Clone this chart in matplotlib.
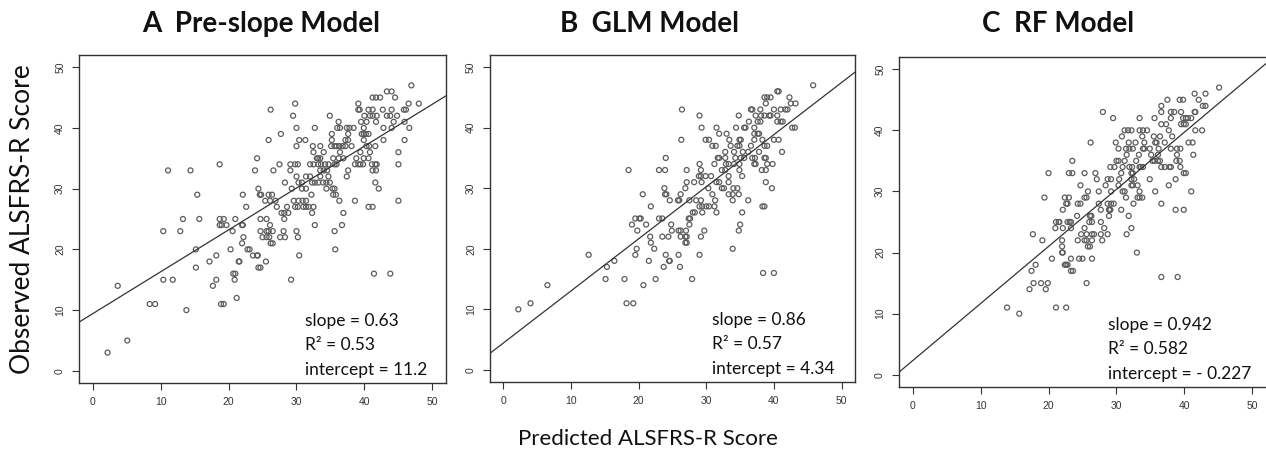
import matplotlib
matplotlib.use("Agg")
import matplotlib.pyplot as plt
import numpy as np

# observed score rows (integer y) with predicted x values
rows_a = {
    47: [46.9], 46: [43.3, 44.0], 45: [41.2, 41.7, 42.3, 44.5],
    44: [29.8, 39.1, 46.5, 48.0],
    43: [26.2, 39.1, 39.3, 40.6, 41.2, 42.7, 44.0, 45.8, 46.1],
    42: [29.5, 34.9, 40.0, 40.8, 41.2, 41.8, 43.3, 43.8, 44.8],
    41: [36.2, 39.5, 40.3, 41.7, 44.3, 45.9],
    40: [30.0, 32.7, 36.0, 36.4, 37.4, 37.8, 38.4, 39.9, 42.8, 44.0, 46.6],
    39: [27.7, 35.2, 37.6, 39.6, 39.9, 40.2, 40.6],
    38: [25.9, 30.4, 31.3, 35.2, 37.2, 37.6, 39.9, 42.8, 45.9],
    37: [30.0, 32.4, 33.5, 35.1, 35.6, 35.9, 36.3, 36.8, 37.2, 38.1, 40.3, 40.7, 41.6],
    36: [32.5, 34.0, 36.4, 39.4, 40.8, 45.0],
    35: [24.2, 33.0, 33.2, 33.5, 35.4, 36.2, 36.9, 38.8, 39.9, 40.6],
    34: [18.7, 27.5, 29.1, 29.8, 30.2, 32.0, 32.5, 33.2, 33.6, 34.2, 34.7, 35.6, 35.9,
         38.6, 39.1, 39.4, 39.8, 41.1, 41.6, 41.8, 45.0],
    33: [11.1, 14.4, 23.9, 26.6, 29.1, 33.5, 34.0, 34.5, 37.6, 41.2, 41.7],
    32: [30.0, 31.4, 32.0, 33.5, 34.7, 37.4],
    31: [28.3, 30.3, 30.8, 32.3, 32.7, 33.2, 33.9, 34.4, 34.9, 41.6],
    30: [24.4, 29.3, 30.8, 31.4, 34.4, 35.3, 35.6, 42.1],
    29: [15.4, 22.1, 24.6, 24.8, 25.9, 26.4, 32.2, 35.4, 35.8],
    28: [25.4, 26.1, 26.9, 29.6, 30.3, 30.9, 31.4, 36.3, 38.6, 45.0],
    27: [22.6, 27.1, 28.6, 29.8, 30.2, 31.0, 31.4, 31.8, 32.5, 40.6, 41.2],
    26: [27.8, 28.2, 28.8, 32.3, 36.9],
    25: [13.3, 15.7, 18.7, 19.3, 21.0, 24.7, 25.6, 28.2],
    24: [18.7, 19.0, 19.7, 22.0, 22.1, 26.1, 32.7, 36.7],
    23: [10.4, 12.9, 20.6, 24.7, 25.6, 25.9, 26.5, 28.1, 30.0, 35.6],
    22: [22.2, 25.0, 25.6, 26.0, 27.6, 28.3, 30.2],
    21: [22.0, 26.2, 26.5],
    20: [15.2, 20.3, 22.8, 23.1, 35.7],
    19: [18.2, 23.6, 24.2, 24.3, 30.4],
    18: [17.2, 21.5, 21.6, 25.5],
    17: [15.2, 24.4, 24.7],
    16: [20.7, 21.0, 41.4, 43.8],
    15: [10.4, 11.8, 18.2, 20.9, 29.2],
    14: [3.7, 17.7], 12: [21.2], 11: [8.4, 9.2, 18.9, 19.3],
    10: [13.8], 5: [5.1], 3: [2.2],
}

rows_b = {
    47: [45.8], 46: [40.5, 40.7], 45: [38.6, 39.0, 39.5, 42.3],
    44: [38.8, 42.5, 43.2],
    43: [26.4, 36.6, 36.8, 38.0, 40.0, 41.0, 41.7, 42.0],
    42: [29.0, 34.8, 37.3, 38.1, 38.6, 39.3, 39.5, 40.5],
    41: [36.3, 37.6, 38.0, 40.5, 41.0, 41.3],
    40: [29.3, 31.5, 34.4, 35.6, 35.8, 37.1, 42.7, 43.1],
    39: [31.9, 33.0, 37.1, 37.6, 37.8],
    38: [26.3, 29.9, 30.4, 33.4, 34.9, 35.1, 37.1, 38.3, 40.0, 40.7],
    37: [30.9, 31.4, 33.6, 34.6, 34.9, 36.6, 38.6, 39.0],
    36: [32.8, 34.1, 35.4, 36.2, 37.8, 41.2],
    35: [24.0, 31.7, 31.9, 32.8, 34.3, 35.1, 35.6, 36.8, 37.2, 38.6, 38.8],
    34: [29.0, 31.2, 32.9, 33.3, 34.1, 34.9, 37.1, 37.3, 39.0, 39.8],
    33: [18.5, 23.0, 23.9, 27.1, 29.2, 32.3, 32.8, 34.9, 38.2, 38.8],
    32: [28.9, 29.2, 29.9, 30.7, 33.3, 35.3],
    31: [27.1, 28.2, 29.3, 31.5, 31.9, 33.3, 38.8],
    30: [23.8, 26.9, 30.3, 32.3, 32.6, 34.0, 34.6, 39.7],
    29: [20.6, 23.9, 24.1, 26.2, 30.9, 33.3, 33.9, 34.8],
    28: [24.6, 25.8, 26.0, 27.5, 28.5, 29.2, 31.3, 33.9, 36.2],
    27: [21.8, 29.0, 29.4, 30.0, 30.4, 31.2, 38.3, 38.6],
    26: [28.0, 28.3, 29.4, 31.5, 35.3],
    25: [19.5, 20.1, 20.3, 23.0, 23.5, 27.4, 27.6],
    24: [19.0, 21.1, 24.8, 27.5, 35.0],
    23: [19.8, 24.9, 25.9, 26.2, 27.0, 29.7, 34.8],
    22: [21.7, 23.5, 24.4, 26.2, 26.9, 27.1, 29.2],
    21: [21.8, 26.9, 27.1],
    20: [19.7, 22.3, 33.9],
    19: [12.6, 19.5, 24.0, 25.9, 29.0],
    18: [16.4, 21.5, 24.5, 24.6],
    17: [15.3, 23.7, 26.1],
    16: [38.4, 40.0],
    15: [15.1, 17.9, 22.5, 27.9],
    14: [6.5, 20.7], 11: [4.0, 18.2, 19.2], 10: [2.2],
}

rows_c = {
    47: [45.1], 46: [41.5, 43.1], 45: [37.5, 39.3, 39.8, 42.1],
    44: [36.6, 42.7, 43.1],
    43: [28.0, 36.6, 38.0, 38.5, 39.5, 41.5, 41.6],
    42: [29.5, 33.4, 35.6, 38.0, 39.8, 40.2, 40.5, 41.0],
    41: [36.6, 37.3, 39.5, 39.9, 40.2],
    40: [31.2, 31.7, 32.2, 33.4, 33.9, 34.5, 37.7, 41.6, 42.6],
    39: [30.8, 33.8, 35.5, 36.4, 38.2],
    38: [26.2, 29.9, 31.8, 32.8, 34.1, 35.7, 35.9, 37.1, 40.6, 41.2],
    37: [30.3, 31.4, 31.9, 32.4, 33.9, 34.1, 34.9, 36.2, 38.0, 38.9, 39.4],
    36: [31.5, 33.3, 35.1, 36.1, 38.9, 41.3],
    35: [23.5, 30.0, 30.3, 31.2, 32.9, 35.3, 35.6, 36.1, 36.4, 38.8, 39.3],
    34: [29.1, 29.7, 30.9, 31.9, 32.3, 33.4, 33.6, 33.9, 36.6, 37.1, 37.8, 38.0, 39.4],
    33: [20.0, 23.0, 23.5, 25.3, 26.9, 30.7, 32.2, 32.4, 39.9, 40.2],
    32: [27.1, 28.7, 29.2, 30.4, 32.2, 32.6, 34.9, 38.7],
    31: [24.7, 28.4, 30.3, 32.2, 32.4, 33.1, 37.7],
    30: [25.8, 27.4, 29.2, 30.9, 31.2, 33.4, 35.7, 41.0],
    29: [19.4, 22.4, 23.0, 25.3, 25.6, 31.4, 33.1, 33.4, 33.8],
    28: [22.6, 22.8, 24.3, 24.7, 27.4, 28.7, 29.2, 29.6, 32.5, 36.6],
    27: [22.1, 27.7, 28.9, 29.0, 29.1, 30.7, 38.7, 39.9],
    26: [24.2, 26.1, 26.3, 28.9, 31.8],
    25: [21.1, 21.5, 21.6, 22.8, 23.1, 23.3, 26.0, 26.4, 27.7],
    24: [21.0, 22.1, 23.3, 25.3, 28.2, 32.2],
    23: [17.7, 24.8, 25.6, 26.4, 26.7, 27.7, 28.7, 31.5],
    22: [19.1, 22.0, 24.3, 25.3, 25.6, 26.4, 27.9],
    21: [22.0, 25.8, 26.1],
    20: [22.0, 22.1, 33.0],
    19: [20.5, 23.3, 24.5, 25.0, 26.4],
    18: [18.1, 22.4, 22.6, 22.8],
    17: [17.5, 23.3, 23.6],
    16: [36.6, 39.0],
    15: [17.8, 18.9, 19.9, 25.6],
    14: [17.2, 19.6], 11: [13.9, 21.1, 22.6], 10: [15.7],
}

titles = ["A  Pre-slope Model", "B  GLM Model", "C  RF Model"]
stats = [["slope = 0.63", "R² = 0.53", "intercept = 11.2"],
         ["slope = 0.86", "R² = 0.57", "intercept = 4.34"],
         ["slope = 0.942", "R² = 0.582", "intercept = - 0.227"]]
# fitted line as drawn in the figure (intercept, slope)
lines = [(9.4, 0.69), (4.45, 0.86), (2.3, 0.935)]
stat_x = [31.3, 30.9, 28.7]


def unpack(rows):
    xs, ys = [], []
    for y, vals in rows.items():
        for v in vals:
            xs.append(v)
            ys.append(y)
    return np.array(xs), np.array(ys)


fig = plt.figure(figsize=(12.66, 4.61), dpi=100)
boxes = [[0.0624, 0.1692, 0.2899, 0.7115],
         [0.3870, 0.1714, 0.2884, 0.7093],
         [0.7101, 0.1605, 0.2915, 0.7159]]
xmax = [52, 52, 52.3]
title_x = [0.206, 0.513, 0.836]

for i, rows in enumerate([rows_a, rows_b, rows_c]):
    ax = fig.add_axes(boxes[i])
    x, y = unpack(rows)
    ax.scatter(x, y, s=13, facecolors="none", edgecolors="#5c5c5c", linewidths=0.9)
    a, b = lines[i]
    xx = np.array([-5, 55])
    ax.plot(xx, a + b * xx, color="#333333", lw=0.9)
    ax.set_xlim(-2, xmax[i])
    ax.set_ylim(-2, 52)
    ax.set_xticks(range(0, 51, 10))
    ax.set_yticks(range(0, 51, 10))
    ax.tick_params(length=5, width=0.8, colors="#333333", labelsize=7.5, pad=5)
    for lab in ax.get_xticklabels() + ax.get_yticklabels():
        lab.set_family("Liberation Sans")
    for lab in ax.get_yticklabels():
        lab.set_rotation(90)
        lab.set_va("center")
    for sp in ax.spines.values():
        sp.set_color("#333333")
        sp.set_linewidth(1.0)
    for k, txt in enumerate(stats[i]):
        ax.text(stat_x[i], 8.2 - 4.0 * k, txt, family="Lato", fontsize=12.5,
                va="center", ha="left", color="#111111")
    fig.text(title_x[i], 0.948, titles[i], family="Lato", fontweight="bold",
             fontsize=20, ha="center", va="center", color="#111111")

fig.text(0.018, 0.525, "Observed ALSFRS-R Score", family="Lato", fontsize=19,
         rotation=90, ha="center", va="center", color="#111111")
fig.text(0.512, 0.048, "Predicted ALSFRS-R Score", family="Lato", fontsize=16,
         ha="center", va="center", color="#111111")

fig.savefig("out.png", dpi=100)
